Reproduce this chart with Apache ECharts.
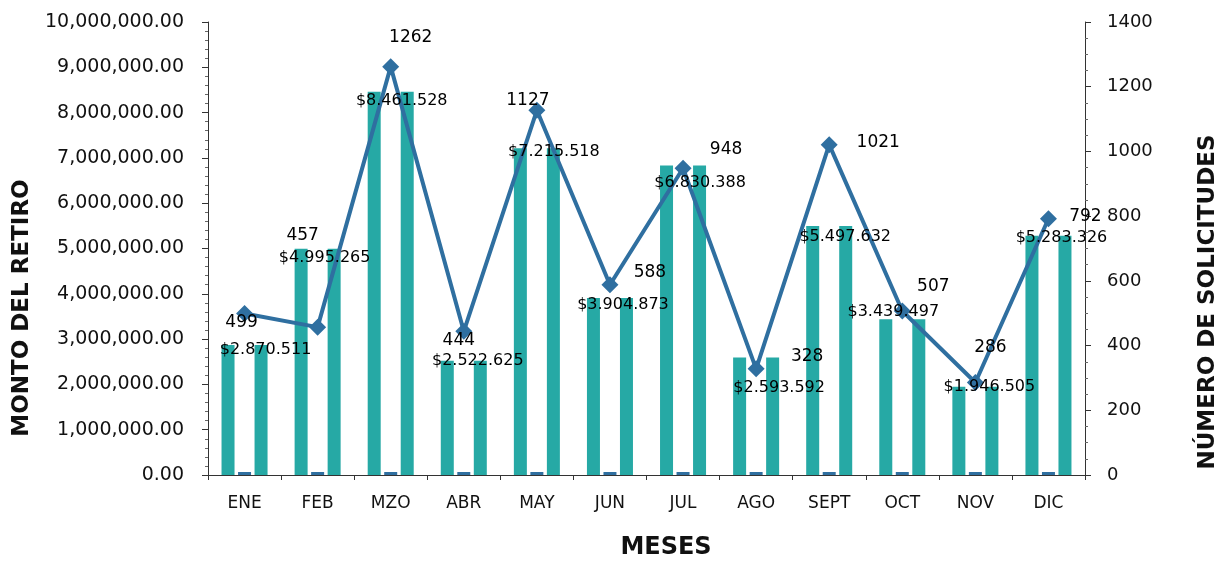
<!DOCTYPE html>
<html><head><meta charset="utf-8">
<script src="https://cdn.jsdelivr.net/npm/echarts@6/dist/echarts.min.js"></script>
<style>html,body{margin:0;padding:0;background:#fff}#c{width:1225px;height:563px}</style>
</head><body><div id="c"></div>
<script>
const months = ['ENE','FEB','MZO','ABR','MAY','JUN','JUL','AGO','SEPT','OCT','NOV','DIC'];
const amounts = [2870511, 4995265, 8461528, 2522625, 7215518, 3904873, 6830388, 2593592, 5497632, 3439497, 1946505, 5283326];
const requests = [499, 457, 1262, 444, 1127, 588, 948, 328, 1021, 507, 286, 792];
const leftTicks = {min: 0, max: 10000000, interval: 1000000};
const rightTicks = {min: 0, max: 1400, interval: 200};
const leftTitle = 'MONTO DEL RETIRO';
const rightTitle = 'NÚMERO DE SOLICITUDES';
const xTitle = 'MESES';

// label placement (layout only)
const amountLabelOffsets = [[21,5],[7,9],[11,9],[14,0],[17,4],[13,7],[17,17],[23,30],[16,11],[-9,-7],[14,0],[13,2]];
const countLabelOffsets = [[-3,9],[-15,-92],[20,-29],[-5,9],[-9,-10],[40,-12],[43,-19],[51,-12],[49,-2],[31,-24],[15,-35],[37,-2]];

const F = 'DejaVu Sans';
const fmtMoney = n => '$' + String(n).replace(/\B(?=(\d{3})+(?!\d))/g, '.');
const fmtAxis = n => String(n).replace(/\B(?=(\d{3})+(?!\d))/g, ',') + '.00';
const teal = '#26A9A5';
const blue = '#2F6FA0';

const chart = echarts.init(document.getElementById('c'), null, {renderer:'canvas'});
chart.setOption({
  animation: false,
  backgroundColor: '#fff',
  grid: {left: 208, right: 140, top: 22, bottom: 88, containLabel: false, outerBoundsMode: 'none'},
  graphic: [
    {type: 'text', x: 22, y: 308, rotation: Math.PI / 2,
     style: {text: leftTitle, align: 'center', verticalAlign: 'middle', fill: '#111',
             font: 'bold 23px "DejaVu Sans"'}},
    {type: 'text', x: 1208, y: 302, rotation: Math.PI / 2,
     style: {text: rightTitle, align: 'center', verticalAlign: 'middle', fill: '#111',
             font: 'bold 23px "DejaVu Sans"'}},
    {type: 'text', x: 666, y: 548,
     style: {text: xTitle, align: 'center', verticalAlign: 'middle', fill: '#111',
             font: 'bold 24px "DejaVu Sans"'}}
  ],
  xAxis: {
    type: 'category', data: months, boundaryGap: true,
    axisLine: {lineStyle: {color: '#333', width: 1}},
    axisTick: {show: true, alignWithLabel: false, length: 5, lineStyle: {color: '#333'}},
    axisLabel: {color: '#111', fontFamily: F, fontSize: 17, margin: 20}
  },
  yAxis: [{
    type: 'value', min: leftTicks.min, max: leftTicks.max, interval: leftTicks.interval,
    splitLine: {show: false},
    axisLine: {show: true, lineStyle: {color: '#333'}},
    axisTick: {show: true, length: 6, lineStyle: {color: '#333'}},
    minorTick: {show: true, splitNumber: 5, length: 3, lineStyle: {color: '#666'}},
    axisLabel: {color: '#111', fontFamily: F, fontSize: 19, margin: 24, formatter: v => fmtAxis(v)}
  },{
    type: 'value', position: 'right', min: rightTicks.min, max: rightTicks.max, interval: rightTicks.interval,
    splitLine: {show: false},
    axisLine: {show: true, lineStyle: {color: '#333'}},
    axisTick: {show: true, length: 6, lineStyle: {color: '#333'}},
    minorTick: {show: true, splitNumber: 4, length: 3, lineStyle: {color: '#666'}},
    axisLabel: {color: '#111', fontFamily: F, fontSize: 18, margin: 22, formatter: v => String(v)}
  }],
  series: [
    {type: 'bar', name: 'Monto A', yAxisIndex: 0, data: amounts, barWidth: 13, barGap: '27%',
     itemStyle: {color: teal}},
    {type: 'bar', name: 'Solicitudes (barra)', yAxisIndex: 0, data: requests, barWidth: 13, barGap: '27%',
     barMinHeight: 3, itemStyle: {color: blue}},
    {type: 'bar', name: 'Monto B', yAxisIndex: 0, data: amounts, barWidth: 13, barGap: '27%',
     itemStyle: {color: teal}},
    {type: 'scatter', name: 'Etiquetas monto', yAxisIndex: 0, symbolSize: 1, z: 5,
     itemStyle: {color: 'rgba(0,0,0,0)'},
     data: amounts.map((v, i) => ({value: v, label: {offset: amountLabelOffsets[i]}})),
     label: {show: true, position: 'inside', color: '#000', opacity: 1, textBorderWidth: 0,
             fontFamily: F, fontSize: 16, formatter: p => fmtMoney(p.value)}},
    {type: 'line', name: 'Solicitudes', yAxisIndex: 1, z: 4,
     data: requests.map((v, i) => ({value: v, label: {offset: countLabelOffsets[i]}})),
     symbol: 'diamond', symbolSize: 17, showAllSymbol: true,
     lineStyle: {color: blue, width: 4}, itemStyle: {color: blue},
     label: {show: true, position: 'inside', color: '#000', fontFamily: F, fontSize: 17}}
  ]
});
</script></body></html>
